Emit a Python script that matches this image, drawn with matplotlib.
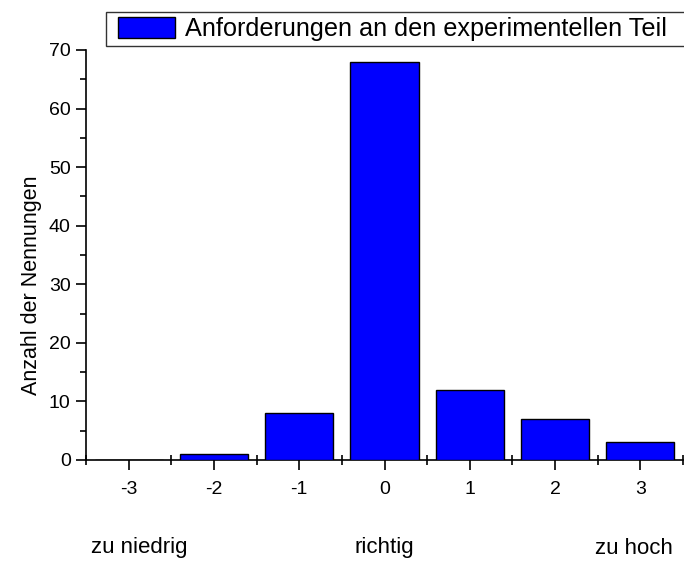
import matplotlib
matplotlib.use("Agg")
import matplotlib.pyplot as plt
from matplotlib.ticker import MultipleLocator, FixedLocator
from matplotlib.transforms import blended_transform_factory
from matplotlib.patches import Rectangle

plt.rcParams['font.family'] = ['Liberation Sans', 'DejaVu Sans']

positions = [-3, -2, -1, 0, 1, 2, 3]
counts = [0, 1, 8, 68, 12, 7, 3]
series_name = "Anforderungen an den experimentellen Teil"
cat_positions = [-2.87, 0, 2.93]
cat_labels = ["zu niedrig", "richtig", "zu hoch"]
ylabel = "Anzahl der Nennungen"

W, H = 684, 562
fig = plt.figure(figsize=(W/100, H/100), dpi=100)
ax = fig.add_axes([86/W, 1-460/H, 597/W, 410/H])

ax.bar(positions, counts, width=0.8, color='#0000ff', edgecolor='black', linewidth=1.0,
       label=series_name, zorder=3)

ax.set_xlim(-3.5, 3.5)
ax.set_ylim(0, 70)
ax.spines['top'].set_visible(False)
ax.spines['right'].set_visible(False)
for s in ['left', 'bottom']:
    ax.spines[s].set_linewidth(1.2)

ax.set_xticks(positions)
ax.set_xticklabels([str(p) for p in positions])
ax.xaxis.set_minor_locator(FixedLocator([-3.5, -2.5, -1.5, -0.5, 0.5, 1.5, 2.5, 3.5]))
ax.yaxis.set_major_locator(MultipleLocator(10))
ax.yaxis.set_minor_locator(MultipleLocator(5))

ax.tick_params(axis='both', which='major', direction='out', length=7, width=1.2, labelsize=14, pad=4)
ax.tick_params(axis='y', which='minor', direction='out', length=4, width=1.2)
ax.tick_params(axis='x', which='minor', direction='inout', length=7, width=1.2)
ax.tick_params(axis='x', which='major', pad=8)

ax.set_ylabel(ylabel, fontsize=15.5)
ax.yaxis.set_label_coords((42-86)/597, (460-285)/410)

trans = blended_transform_factory(ax.transData, fig.transFigure)
for p, lab in zip(cat_positions, cat_labels):
    ax.text(p, 1-548/H, lab, transform=trans, ha='center', va='center', fontsize=16)

# legend frame (extends past the right edge of the figure, as in the original)
frame = Rectangle((106/W, 1-46/H), (720-106)/W, 34/H, transform=fig.transFigure,
                  facecolor='white', edgecolor='#333333', linewidth=1.0, clip_on=False, zorder=4)
fig.patches.append(frame)

fs = 18.2
em = fs * 100 / 72
leg = fig.legend(loc='center left', bbox_to_anchor=(118/W, 1-29/H), fontsize=fs,
                 frameon=False, handlelength=57/em, handleheight=22/em,
                 borderpad=0, handletextpad=10/em, borderaxespad=0)
leg.set_zorder(5)

fig.savefig("out.png", dpi=100)
